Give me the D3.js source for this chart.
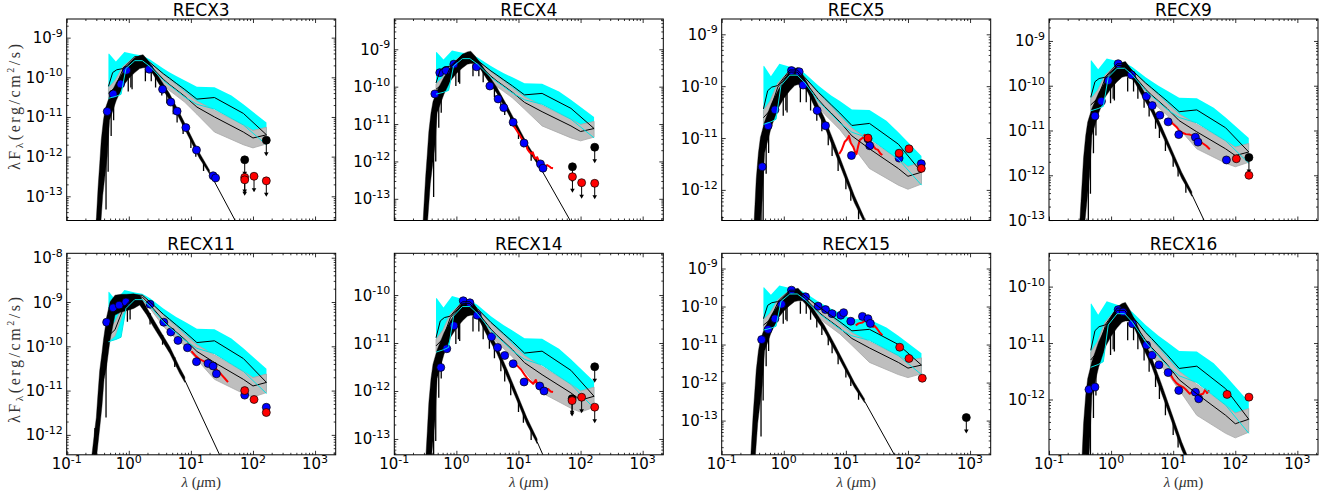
<!DOCTYPE html>
<html><head><meta charset="utf-8">
<script src="https://cdn.jsdelivr.net/npm/d3@7"></script>
<style>
body{margin:0;background:#fff;}
svg text{font-family:"DejaVu Sans",sans-serif;fill:#000;}
</style></head><body>
<svg id="chart" width="1336" height="497"></svg>
<script>
// ---------------- DATA ----------------
const panelNames=["RECX3","RECX4","RECX5","RECX9","RECX11","RECX14","RECX15","RECX16"];
const yLogMin=[-13.61,-13.58,-12.59,-13.01,-12.45,-13.33,-13.9,-12.98];
const yLogMax=[-8.53,-8.19,-8.705,-8.51,-7.9,-9.13,-8.6,-9.41];
const yTickExps=[[-13,-12,-11,-10,-9],[-13,-12,-11,-10,-9],[-12,-11,-10,-9],[-13,-12,-11,-10,-9],[-12,-11,-10,-9,-8],[-13,-12,-11,-10],[-13,-12,-11,-10,-9],[-12,-11,-10]];
const xLim=[0.1,2150];
const xTickExps=[-1,0,1,2,3];
// log10 flux of the median-SED normalisation (peak) in each panel
const normLogFlux=[-9.48,-9.15,-9.688,-9.51,-8.846,-10.14,-9.57,-10.38];
const starTemplate=["M","M","M","M","K","M","M","M"];
const starLogOffset=[0,0.05,0,0,0,0,0,0.05];

// Median SED of disks (quartile band + median), log10 flux relative to normalisation
const taurusUpper=[[0.47,0.07],[0.48,0.08],[0.62,-0.12],[0.85,0.12],[1.25,0.06],[1.65,0.03],[2.2,-0.07],[3.6,-0.3],[4.5,-0.39],[5.8,-0.49],[8,-0.6],[12.5,-0.76],[24,-0.77],[45,-0.98],[70,-1.2],[165,-1.66]];
const taurusLower=[[0.47,-1.05],[0.62,-1.0],[0.75,-0.95],[0.9,-0.3],[1.25,-0.1],[1.65,-0.1],[2.2,-0.25],[3.6,-0.6],[4.5,-0.72],[5.8,-0.85],[8,-1.02],[12.5,-1.2],[24,-1.32],[70,-1.72],[165,-2.22]];
const taurusMedian=[[0.47,-0.75],[0.55,-0.4],[0.64,-0.33],[0.8,-0.3],[1.25,0.0],[1.65,0.0],[2.2,-0.15],[3.6,-0.43],[4.5,-0.54],[5.8,-0.67],[8,-0.83],[12.5,-1.07],[24,-1.03],[70,-1.43],[165,-1.97]];
const grayUpper=[[0.47,-0.78],[0.6,-0.6],[0.8,-0.25],[1.25,0.0],[1.65,0.0],[2.2,-0.15],[3.6,-0.45],[4.5,-0.57],[5.8,-0.7],[8,-0.88],[12.5,-1.12],[24,-1.35],[70,-1.72],[100,-1.86],[165,-1.78]];
const grayLower=[[0.47,-1.05],[0.6,-0.92],[0.8,-0.42],[1.25,-0.1],[1.65,-0.1],[2.2,-0.3],[3.6,-0.7],[4.5,-0.85],[5.8,-0.98],[8,-1.15],[12.5,-1.45],[24,-1.9],[70,-2.22],[100,-2.3],[165,-2.2]];
const grayMedian=[[0.47,-0.92],[0.6,-0.78],[0.8,-0.33],[1.25,-0.04],[1.65,-0.04],[2.2,-0.22],[3.6,-0.57],[4.5,-0.7],[5.8,-0.83],[8,-1.0],[12.5,-1.27],[24,-1.52],[70,-1.9],[100,-2.05],[165,-1.97]];

// Stellar photosphere envelopes (log10 flux relative to normalisation)
const mStarUpper=[[0.28,-5.0],[0.30,-4.1],[0.32,-3.3],[0.34,-2.7],[0.36,-2.1],[0.39,-1.6],[0.42,-1.3],[0.49,-1.0],[0.63,-0.65],[0.8,-0.4],[1.0,-0.2],[1.25,-0.03],[1.5,0.03],[1.7,0.05],[2.0,-0.08],[2.44,-0.27],[3.1,-0.53],[4.5,-0.92],[6.6,-1.42],[8.4,-1.75],[13.7,-2.42],[20,-2.86]];
const mStarLower=[[0.32,-5.0],[0.34,-4.6],[0.38,-3.5],[0.42,-2.9],[0.45,-2.5],[0.49,-1.6],[0.63,-1.1],[0.8,-0.75],[1.0,-0.55],[1.25,-0.4],[1.5,-0.3],[1.7,-0.28],[2.0,-0.28],[2.44,-0.43],[3.1,-0.7],[4.5,-1.08],[6.6,-1.58],[8.4,-1.9],[13.7,-2.56],[20,-2.96]];
const mStarRJ=[[20,-2.92],[100,-4.97]];
const mStarSpikes=[[0.43,-1.5,-3.85],[0.465,-1.4,-2.9],[0.52,-1.3,-2.0],[0.57,-1.0,-1.6],[0.98,-0.5,-0.88],[1.08,-0.45,-0.78],[1.13,-0.45,-0.82],[1.85,-0.3,-0.62],[2.3,-0.35,-0.62],[2.7,-0.5,-0.78],[3.4,-0.7,-0.98],[4.1,-0.9,-1.18],[5.2,-1.2,-1.45],[6.0,-1.4,-1.66],[7.5,-1.7,-1.95],[10,-2.05,-2.3],[12,-2.3,-2.52],[16,-2.65,-2.88]];
const kStarUpper=[[0.235,-4.0],[0.26,-3.5],[0.28,-3.1],[0.30,-2.76],[0.32,-2.2],[0.34,-1.7],[0.37,-1.3],[0.39,-1.02],[0.42,-0.7],[0.44,-0.49],[0.5,-0.15],[0.6,0.0],[0.75,0.02],[0.92,0.02],[1.2,0.03],[1.5,0.0],[1.93,-0.27],[2.5,-0.55],[3.16,-0.79],[4.6,-1.17],[6.6,-1.63],[8.0,-1.85]];
const kStarLower=[[0.26,-4.0],[0.30,-3.7],[0.34,-3.0],[0.37,-2.5],[0.40,-1.9],[0.44,-1.6],[0.5,-1.0],[0.6,-0.45],[0.75,-0.38],[0.92,-0.35],[1.2,-0.3],[1.5,-0.22],[1.93,-0.44],[2.5,-0.72],[3.16,-0.95],[4.6,-1.32],[6.6,-1.77],[8.0,-1.97]];
const kStarRJ=[[8.0,-1.92],[35,-3.85]];
const kStarSpikes=[[0.43,-1.0,-2.76],[0.285,-3.0,-3.9],[0.95,-0.3,-0.6],[1.05,-0.3,-0.55],[2.2,-0.4,-0.66],[3.5,-0.9,-1.12],[5.5,-1.4,-1.62]];

// Photometry [lambda (um), lambda F_lambda (erg/cm2/s)]
const bluePhot=[
 [[0.45,1.38e-11],[0.56,3.8e-11],[0.74,6.8e-11],[0.92,1.5e-10],[2.13,1.6e-10],[3.5,5e-11],[4.75,2.37e-11],[6.0,1.4e-11],[8.3,5.4e-12],[12.3,1.47e-12],[22.8,3.3e-13],[25,2.9e-13]],
 [[0.45,6.4e-11],[0.54,2.37e-10],[0.68,2.7e-10],[0.91,4e-10],[2.11,3.4e-10],[3.46,1.04e-10],[4.7,4.7e-11],[5.8,2.74e-11],[8.2,1.12e-11],[12.3,3.1e-12],[22.6,8.6e-13],[24.8,6.6e-13]],
 [[0.45,2.8e-12],[0.56,1.73e-11],[0.72,3.5e-11],[1.33,2e-10],[1.77,1.9e-10],[2.05,1.05e-10],[3.44,3.4e-11],[4.7,1.73e-11],[12.3,4.6e-12],[22.7,9.6e-12],[24.2,7.1e-12],[72,4.1e-12],[164,3.2e-12]],
 [[0.55,2.1e-11],[0.70,4.5e-11],[0.90,1.3e-10],[1.3,3.1e-10],[2.13,1.75e-10],[3.7,5.8e-11],[4.6,3.6e-11],[6.1,2.2e-11],[8.3,1.56e-11],[12.3,8.1e-12],[22.8,7.1e-12],[25.1,5.5e-12],[72,2.2e-12]],
 [[0.44,3.5e-10],[0.56,7.4e-10],[0.70,8.5e-10],[0.90,1e-9],[2.2,8.9e-10],[3.66,3.5e-10],[4.75,2.1e-10],[6.2,1.36e-10],[8.8,9.3e-11],[12.3,4.5e-11],[18.9,4.1e-11],[22.8,3.6e-11],[25.8,2.4e-11],[73.6,7.9e-12],[164,4.2e-12]],
 [[0.56,3.1e-12],[0.70,7.6e-12],[0.91,2.3e-11],[1.29,7.6e-11],[1.65,6.9e-11],[2.16,3.8e-11],[3.68,1.35e-11],[4.6,8.1e-12],[6.0,5.5e-12],[8.2,3.7e-12],[12.3,1.54e-12],[22,1.27e-12],[25.8,1e-12]],
 [[0.44,1.35e-11],[0.56,2.5e-11],[0.72,4.8e-11],[0.92,1.15e-10],[1.33,2.7e-10],[2.24,1.8e-10],[3.57,1.02e-10],[4.7,8.3e-11],[6.0,6.5e-11],[8.3,5.9e-11],[9.2,6.9e-11],[12,4.1e-11],[18.5,5.5e-11],[22.7,4.8e-11],[24.8,3.6e-11]],
 [[0.44,1.5e-12],[0.55,1.66e-12],[1.3,3.9e-11],[1.57,3.6e-11],[2.2,2.2e-11],[3.72,9.2e-12],[4.58,6.1e-12],[5.9,4.1e-12],[8.3,3e-12],[12.3,1.45e-12],[22.8,1.35e-12],[25.8,1.03e-12]]
];
// [lambda, flux, upperLimit(1/0)]
const redPhot=[
 [[73.6,3.0e-13,1],[73.6,2.6e-13,1],[104,3.2e-13,1],[164,2.45e-13,1]],
 [[74,3.9e-13,1],[104,2.7e-13,1],[169,2.6e-13,1]],
 [[22.7,1.0e-11,0],[72,5.1e-12,0],[104,6.2e-12,0],[164,2.6e-12,0]],
 [[104,2.34e-12,0],[166,1e-12,0]],
 [[73.6,1e-11,0],[104,6.3e-12,0],[164,3.2e-12,0]],
 [[73,6.3e-13,1],[104,7.4e-13,1],[169,4.6e-13,1]],
 [[73.6,8.5e-12,0],[104,4.3e-12,0],[170,1.3e-12,0]],
 [[73.8,1.23e-12,0],[166,1.1e-12,0]]
];
const blackPhot=[
 [[164,2.6e-12,1],[73.6,8.3e-13,1]],
 [[169,2.4e-12,1],[74,7.2e-13,1]],
 [],
 [[166,2.5e-12,1]],
 [],
 [[169,3.2e-12,1],[73,6.9e-13,1]],
 [[870,1.2e-13,1]],
 []
];
// Spitzer IRS spectra [lambda, flux]
const irsSpec=[
 [],
 [[7.7,1.05e-11],[9,7.5e-12],[10.5,5e-12],[12.3,3.1e-12],[13.5,2.6e-12],[14,2.1e-12],[15.2,1.74e-12],[16.5,1.6e-12],[17,1.75e-12],[18,1.3e-12],[19,1.2e-12],[20,1.3e-12],[22,8.9e-13],[24,8.5e-13],[26,7.8e-13],[27,7.2e-13],[29,8e-13],[32,7.2e-13],[33,6.8e-13],[36,6.6e-13]],
 [[7.8,4.9e-12],[8.5,5.8e-12],[9.6,8.5e-12],[10.5,9.5e-12],[11.2,1.1e-11],[12,8e-12],[13.1,6.8e-12],[14,5.5e-12],[14.8,4.9e-12],[15.8,7e-12],[16.7,9.1e-12],[18.5,1.0e-11],[20.1,1.15e-11],[22,8.5e-12],[24,8e-12],[27.4,7.1e-12],[30,6.2e-12],[33,5.9e-12],[36,5.0e-12],[38.7,4.7e-12]],
 [[9.0,1.62e-11],[10,1.4e-11],[11.3,1.2e-11],[12.5,1.0e-11],[14.1,8.9e-12],[16,8.3e-12],[18.5,8.1e-12],[21,7.6e-12],[23.7,7.4e-12],[26,6.2e-12],[28.5,5.4e-12],[31,5.0e-12],[34.4,4.5e-12],[38.9,3.8e-12]],
 [[10.2,7.8e-11],[12,6e-11],[13.5,5.2e-11],[15.7,4.7e-11],[18,4.2e-11],[21,3.8e-11],[24.2,3.4e-11],[27,2.8e-11],[31,2.3e-11],[35,1.9e-11],[39.6,1.55e-11]],
 [[9.3,3.5e-12],[11,2.8e-12],[12.5,2.2e-12],[14,1.8e-12],[15.5,1.6e-12],[17.2,1.41e-12],[19,1.7e-12],[20.5,1.3e-12],[22,1.25e-12],[24.8,1.17e-12],[27,1.05e-12],[30,1.1e-12],[33,9.8e-13],[36,9.5e-13]],
 [[14.4,3.2e-11],[16,3.6e-11],[18.5,3.8e-11],[20,4.2e-11],[21.4,4.4e-11],[22.8,4.5e-11],[25,3.5e-11],[27.4,2.9e-11],[29,3.1e-11],[31.8,2.6e-11],[35,2.1e-11],[38.7,1.74e-11]],
 [[9.0,2.8e-12],[10,2.3e-12],[11.3,1.95e-12],[12.5,1.8e-12],[14.4,1.66e-12],[16,1.5e-12],[18.5,1.26e-12],[21,1.4e-12],[23.7,1.35e-12],[26,1.2e-12],[30.3,1.26e-12],[33,1.5e-12],[35,1.3e-12],[37.8,1.45e-12]]
];

// ---------------- DRAW ----------------
const svg=d3.select("#chart");
svg.append("rect").attr("width",1336).attr("height",497).attr("fill","#fff");
const W=269,H=201.5;
const colLeft=[66.7,394.3,721.7,1049];
const rowTop=[19,253.3];
const yLabelCenter=[107,360];
const ARROW=16;

panelNames.forEach((name,i)=>{
  const col=i%4,row=Math.floor(i/4);
  const L=colLeft[col],T=rowTop[row];
  const x=d3.scaleLog().domain(xLim).range([L,L+W]);
  const y=d3.scaleLog().domain([Math.pow(10,yLogMin[i]),Math.pow(10,yLogMax[i])]).range([T+H,T]);
  const norm=normLogFlux[i];
  const tpl=(arr,off)=>arr.map(d=>[d[0],Math.pow(10,d[1]+off)]);
  const line=d3.line().x(d=>x(d[0])).y(d=>y(d[1]));
  const poly=(up,low,off)=>line(tpl(up,off).concat(tpl(low,off).reverse()))+"Z";

  svg.append("clipPath").attr("id","cp"+i).append("rect")
    .attr("x",L).attr("y",T).attr("width",W).attr("height",H);
  const g=svg.append("g").attr("clip-path","url(#cp"+i+")");

  // bands
  g.append("path").attr("d",poly(taurusUpper,taurusLower,norm)).attr("fill","#00ffff");
  g.append("path").attr("d",poly(grayUpper,grayLower,norm)).attr("fill","#bebebe")
    .attr("stroke","#a8a8a8").attr("stroke-width",0.8);

  // stellar photosphere
  const sOff=norm+starLogOffset[i];
  const st=starTemplate[i]==="K"
    ?{up:kStarUpper,low:kStarLower,rj:kStarRJ,sp:kStarSpikes}
    :{up:mStarUpper,low:mStarLower,rj:mStarRJ,sp:mStarSpikes};
  g.append("path").attr("d",poly(st.up,st.low,sOff)).attr("fill","#000")
    .attr("stroke","#000").attr("stroke-width",0.4);
  g.selectAll(null).data(st.sp).join("line")
    .attr("x1",d=>x(d[0])).attr("x2",d=>x(d[0]))
    .attr("y1",d=>y(Math.pow(10,d[1]+sOff))).attr("y2",d=>y(Math.pow(10,d[2]+sOff)))
    .attr("stroke","#000").attr("stroke-width",1.3);
  g.append("path").attr("d",line(tpl(st.rj,sOff))).attr("fill","none")
    .attr("stroke","#000").attr("stroke-width",1);

  // IRS spectrum
  if(irsSpec[i].length){
    g.append("path").attr("d",line(irsSpec[i])).attr("fill","none")
      .attr("stroke","#ff0000").attr("stroke-width",2).attr("stroke-linejoin","round");
  }

  // blue photometry
  g.selectAll(null).data(bluePhot[i]).join("circle")
    .attr("cx",d=>x(d[0])).attr("cy",d=>y(d[1])).attr("r",4)
    .attr("fill","#0000ff").attr("stroke","#000").attr("stroke-width",0.7);

  // median lines
  g.append("path").attr("d",line(tpl(taurusMedian,norm))).attr("fill","none").attr("stroke","#000").attr("stroke-width",1);
  g.append("path").attr("d",line(tpl(grayMedian,norm))).attr("fill","none").attr("stroke","#000").attr("stroke-width",1);
  g.append("path").attr("d",line(tpl(taurusLower,norm))).attr("fill","none").attr("stroke","#00e5e5").attr("stroke-width",1);

  // upper-limit arrows
  const ul=redPhot[i].concat(blackPhot[i]).filter(d=>d[2]===1);
  g.selectAll(null).data(ul).join("line")
    .attr("x1",d=>x(d[0])).attr("x2",d=>x(d[0]))
    .attr("y1",d=>y(d[1])).attr("y2",d=>y(d[1])+ARROW-2)
    .attr("stroke","#000").attr("stroke-width",1);
  g.selectAll(null).data(ul).join("path")
    .attr("d",d=>{const cx=x(d[0]),cy=y(d[1])+ARROW;return `M${cx-2.3},${cy-4}L${cx+2.3},${cy-4}L${cx},${cy}Z`;})
    .attr("fill","#000");
  g.selectAll(null).data(blackPhot[i]).join("circle")
    .attr("cx",d=>x(d[0])).attr("cy",d=>y(d[1])).attr("r",4)
    .attr("fill","#000").attr("stroke","#000").attr("stroke-width",0.7);
  g.selectAll(null).data(redPhot[i]).join("circle")
    .attr("cx",d=>x(d[0])).attr("cy",d=>y(d[1])).attr("r",4)
    .attr("fill","#ff0000").attr("stroke","#000").attr("stroke-width",0.7);

  // axes (ticks inward on all sides)
  const majorX=xTickExps.map(e=>Math.pow(10,e));
  const minorX=[];
  xTickExps.forEach(e=>{for(let k=2;k<10;k++){const v=k*Math.pow(10,e);if(v<=xLim[1])minorX.push(v);}});
  const majorY=yTickExps[i].map(e=>Math.pow(10,e));
  const minorY=[];
  for(let e=Math.floor(yLogMin[i]);e<=Math.floor(yLogMax[i]);e++){
    for(let k=2;k<10;k++){const v=k*Math.pow(10,e);const lv=Math.log10(v);if(lv>yLogMin[i]&&lv<yLogMax[i])minorY.push(v);}
  }
  const ax=svg.append("g");
  const clean=s=>{s.select(".domain").remove();s.selectAll("line").attr("stroke","#000").attr("stroke-width",0.8);};
  [[majorX,4],[minorX,2]].forEach(([vals,sz])=>{
    ax.append("g").attr("transform",`translate(0,${T+H})`).call(d3.axisBottom(x).tickValues(vals).tickSize(-sz).tickFormat("")).call(clean);
    ax.append("g").attr("transform",`translate(0,${T})`).call(d3.axisTop(x).tickValues(vals).tickSize(-sz).tickFormat("")).call(clean);
  });
  [[majorY,4],[minorY,2]].forEach(([vals,sz])=>{
    ax.append("g").attr("transform",`translate(${L},0)`).call(d3.axisLeft(y).tickValues(vals).tickSize(-sz).tickFormat("")).call(clean);
    ax.append("g").attr("transform",`translate(${L+W},0)`).call(d3.axisRight(y).tickValues(vals).tickSize(-sz).tickFormat("")).call(clean);
  });
  svg.append("rect").attr("x",L).attr("y",T).attr("width",W).attr("height",H)
    .attr("fill","none").attr("stroke","#000").attr("stroke-width",1);

  // y tick labels
  svg.append("g").selectAll("text").data(yTickExps[i]).join("text")
    .attr("x",L-4).attr("y",e=>y(Math.pow(10,e))+5.5)
    .attr("text-anchor","end").attr("font-size",15)
    .each(function(e){const t=d3.select(this);t.append("tspan").text("10");t.append("tspan").attr("dy",-6.6).attr("font-size",11).text(String(e));});
  // x tick labels (bottom row)
  if(row===1){
    svg.append("g").selectAll("text").data(xTickExps).join("text")
      .attr("x",e=>x(Math.pow(10,e))).attr("y",T+H+14.5)
      .attr("text-anchor","middle").attr("font-size",15)
      .each(function(e){const t=d3.select(this);t.append("tspan").text("10");t.append("tspan").attr("dy",-6.6).attr("font-size",11).text(String(e));});
    const xl=svg.append("text").attr("x",L+W/2).attr("y",487).attr("text-anchor","middle")
      .attr("font-size",15).style("font-family","'Liberation Serif',serif").style("fill","#333");
    xl.append("tspan").attr("font-style","italic").text("λ");
    xl.append("tspan").text(" (");
    xl.append("tspan").attr("font-style","italic").text("μ");
    xl.append("tspan").text("m)");
  }
  // y axis label (left column)
  if(col===0){
    const yl=svg.append("text").attr("transform",`translate(20,${yLabelCenter[row]}) rotate(-90)`)
      .attr("text-anchor","middle").attr("font-size",16)
      .attr("textLength",126).attr("lengthAdjust","spacing")
      .style("font-family","'Liberation Serif',serif").style("fill","#333");
    yl.append("tspan").text("λF");
    yl.append("tspan").attr("dy",3).attr("font-size",11).text("λ");
    yl.append("tspan").attr("dy",-3).text("(erg/cm");
    yl.append("tspan").attr("dy",-6).attr("font-size",10).text("2");
    yl.append("tspan").attr("dy",6).text("/s)");
  }
  // title
  svg.append("text").attr("x",L+W/2).attr("y",T-3).attr("text-anchor","middle")
    .attr("font-size",17).text(name);
});
</script>
</body></html>
